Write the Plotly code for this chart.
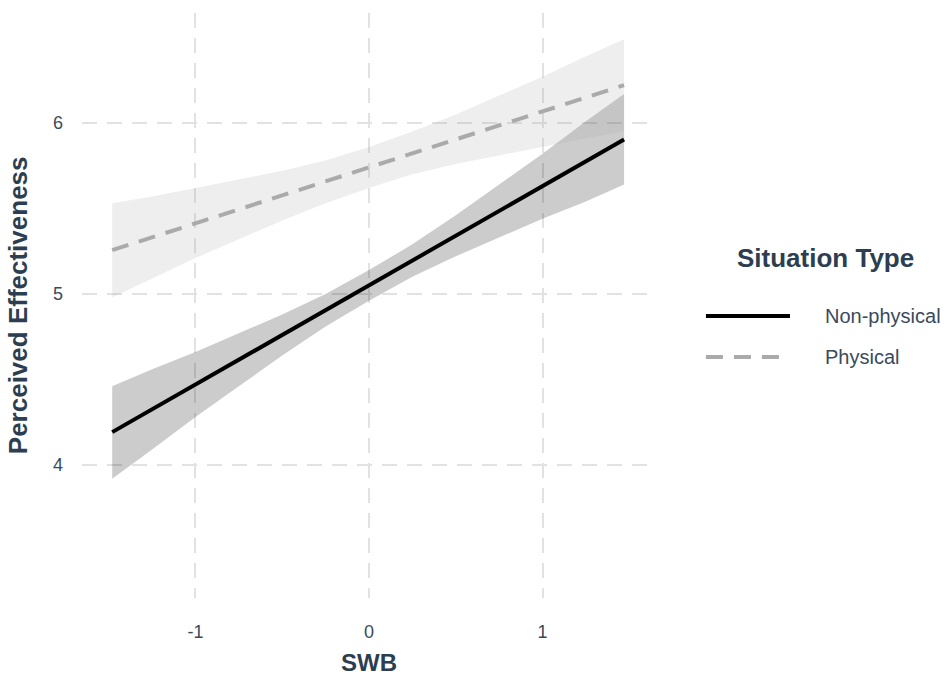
import plotly.graph_objects as go

# Predicted perceived effectiveness across SWB, by situation type
swb = [-1.48, -1.25, -1.0, -0.75, -0.5, -0.25, 0.0, 0.25, 0.5, 0.75, 1.0, 1.25, 1.47]

nonphys_fit = [4.192, 4.325, 4.470, 4.615, 4.760, 4.905, 5.050, 5.195, 5.340, 5.485, 5.630,
               5.775, 5.903]
nonphys_lo = [3.92, 4.09, 4.28, 4.46, 4.64, 4.81, 4.96, 5.10, 5.22, 5.33, 5.44, 5.54, 5.64]
nonphys_hi = [4.46, 4.56, 4.66, 4.77, 4.88, 5.00, 5.14, 5.29, 5.46, 5.64, 5.82, 6.01, 6.17]

phys_fit = [5.256, 5.331, 5.413, 5.495, 5.577, 5.658, 5.740, 5.822, 5.904, 5.985, 6.067,
            6.149, 6.221]
phys_lo = [4.98, 5.09, 5.21, 5.32, 5.43, 5.53, 5.62, 5.70, 5.76, 5.81, 5.86, 5.91, 5.95]
phys_hi = [5.53, 5.57, 5.62, 5.67, 5.72, 5.78, 5.86, 5.95, 6.05, 6.16, 6.27, 6.39, 6.49]

groups = ["Non-physical", "Physical"]
x_ticks = [-1, 0, 1]
x_tick_text = ["-1", "0", "1"]
y_ticks = [4, 5, 6]

TEXT = "#2C3E50"
TICK = "#3A4A5C"
FONT = "Liberation Sans, Arial, sans-serif"

fig = go.Figure()


def band(x, lo, hi, fill):
    return go.Scatter(
        x=list(x) + list(x)[::-1],
        y=list(hi) + list(lo)[::-1],
        fill="toself", fillcolor=fill,
        line=dict(width=0), mode="lines",
        hoverinfo="skip", showlegend=False,
    )


fig.add_trace(band(swb, nonphys_lo, nonphys_hi, "rgba(0,0,0,0.2)"))
fig.add_trace(band(swb, phys_lo, phys_hi, "rgba(170,170,170,0.2)"))

line_styles = {
    "Non-physical": dict(color="#000000", width=4, dash="solid"),
    "Physical": dict(color="#AAAAAA", width=4, dash="17px,11px"),
}

fig.add_trace(go.Scatter(x=swb, y=nonphys_fit, mode="lines",
                         line=line_styles["Non-physical"],
                         name=groups[0], showlegend=False))
fig.add_trace(go.Scatter(x=swb, y=phys_fit, mode="lines",
                         line=line_styles["Physical"],
                         name=groups[1], showlegend=False))

grid = dict(showgrid=True, gridcolor="#E2E2E2", gridwidth=2, griddash="15px,10px",
            zeroline=False, showline=False, ticks="",
            tickfont=dict(family=FONT, size=18, color=TICK))

fig.update_xaxes(range=[-1.654, 1.654], tickvals=x_ticks, ticktext=x_tick_text,
                 ticklabelstandoff=21, **grid)
fig.update_yaxes(range=[3.222, 6.643], tickvals=y_ticks, ticklabelstandoff=18, **grid)

# Axis titles
fig.add_annotation(text="<b>SWB</b>", xref="paper", yref="paper", x=0.5, y=-0.111,
                   xanchor="center", yanchor="middle", showarrow=False,
                   font=dict(family=FONT, size=24, color=TEXT))
fig.add_annotation(text="<b>Perceived Effectiveness</b>", xref="paper", yref="paper",
                   x=-0.112, y=0.5, textangle=-90, xanchor="center", yanchor="middle",
                   showarrow=False, font=dict(family=FONT, size=26, color=TEXT))

# Legend drawn by hand so the key lines are long
fig.add_annotation(text="<b>Situation Type</b>", xref="paper", yref="paper",
                   x=1.295, y=0.582, xanchor="center", yanchor="middle", showarrow=False,
                   font=dict(family=FONT, size=26, color=TEXT))
legend_y = [0.482, 0.412]
for name, ly in zip(groups, legend_y):
    st = line_styles[name]
    fig.add_shape(type="line", xref="paper", yref="paper", x0=1.087, x1=1.2334,
                  y0=ly, y1=ly, line=dict(color=st["color"], width=st["width"],
                                          dash=st["dash"]))
    fig.add_annotation(text=name, xref="paper", yref="paper", x=1.291, y=ly,
                       xanchor="left", yanchor="middle", showarrow=False,
                       font=dict(family=FONT, size=20, color=TICK))

fig.update_layout(
    width=948, height=675,
    margin=dict(l=82, r=292, t=13, b=77),
    plot_bgcolor="white", paper_bgcolor="white",
    showlegend=False,
)

fig.write_html("out.html")
